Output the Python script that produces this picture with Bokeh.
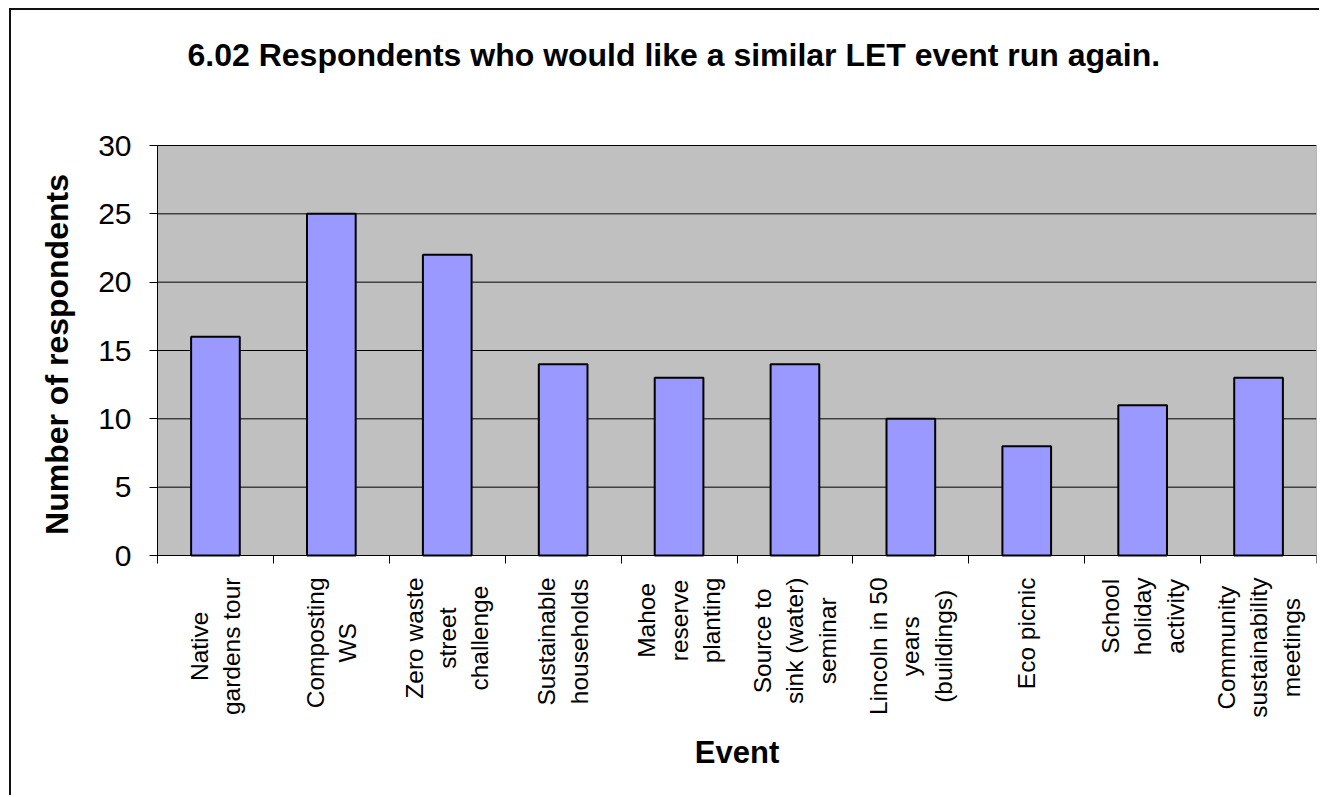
import math
from bokeh.plotting import figure
from bokeh.models import Range1d, FixedTicker, ColumnDataSource, LabelSet, Label, LinearAxis
from bokeh.core.properties import value
from bokeh.embed import file_html
from bokeh.resources import INLINE

categories = ["Native\ngardens tour", "Composting\nWS", "Zero waste\nstreet\nchallenge",
              "Sustainable\nhouseholds", "Mahoe\nreserve\nplanting", "Source to\nsink (water)\nseminar",
              "Lincoln in 50\nyears\n(buildings)", "Eco picnic", "School\nholiday\nactivity",
              "Community\nsustainability\nmeetings"]
values = [16, 25, 22, 14, 13, 14, 10, 8, 11, 13]
y_ticks = [0, 5, 10, 15, 20, 25, 30]
y_max = 30
x_title = "Event"
y_title = "Number of respondents"
title = "6.02 Respondents who would like a similar LET event run again."

n = len(categories)
centers = [i + 0.5 for i in range(n)]
bounds = list(range(n + 1))

FONT = "Liberation Sans"
CAT_FONT_PX = 24.5
LINE_GAP_PX = 32.5
LABEL_GAP_PX = 22

# layout (px)
W, H = 1310, 787
TOP_PAD = 20                      # room above the grey area for the "30" label
MB_LEFT, MB_RIGHT, MB_TOP, MB_BOTTOM = 0, 5, 135 - TOP_PAD, 2
PLOT_W, PLOT_H = 1159, 410        # size of the grey plotting area
frame_w = W - MB_LEFT - MB_RIGHT
frame_h = H - MB_TOP - MB_BOTTOM
x_min = n - frame_w * n / PLOT_W           # room on the left for the y axis texts
y_top = y_max + TOP_PAD * y_max / PLOT_H
y_min = y_top - frame_h * y_max / PLOT_H   # room below 0 for the category labels

# Arial / Liberation Sans advance widths (per 1000 em) used to centre the label blocks
ADV = {' ': 278, '(': 333, ')': 333, '0': 556, '5': 556, 'C': 722, 'E': 667, 'H': 722,
       'L': 556, 'M': 833, 'N': 722, 'S': 667, 'W': 944, 'Z': 611, 'a': 556, 'b': 556,
       'c': 500, 'd': 556, 'e': 556, 'g': 556, 'h': 556, 'i': 222, 'k': 500, 'l': 222,
       'm': 833, 'n': 556, 'o': 556, 'p': 556, 'r': 333, 's': 500, 't': 278, 'u': 556,
       'v': 500, 'w': 722, 'y': 500}


def text_px(s):
    return sum(ADV.get(ch, 556) for ch in s) * CAT_FONT_PX / 1000.0


lab_x, lab_y, lab_text, lab_dx, lab_dy = [], [], [], [], []
for c, cat in zip(centers, categories):
    lines = cat.split("\n")
    block = max(text_px(s) for s in lines)
    k = len(lines)
    for i, s in enumerate(lines):
        lab_x.append(c)
        lab_y.append(0)
        lab_text.append(s)
        lab_dx.append((i - (k - 1) / 2.0) * LINE_GAP_PX)
        lab_dy.append(-(LABEL_GAP_PX + block / 2.0))

p = figure(width=W, height=H, output_backend="svg", toolbar_location=None,
           x_range=Range1d(x_min, n), y_range=Range1d(y_min, y_top),
           x_axis_location=None, y_axis_location=None,
           min_border_left=MB_LEFT, min_border_right=MB_RIGHT,
           min_border_top=MB_TOP, min_border_bottom=MB_BOTTOM)
p.styles = {"margin-left": "9px", "margin-top": "8px",
            "border-left": "2px solid #111", "border-top": "2px solid #111"}
p.grid.visible = False

p.title.text = title + "\n "
p.title.text_font = FONT
p.title.text_font_size = "32px"
p.title.text_font_style = "bold"
p.title.text_color = "black"
p.title.text_line_height = 1.28
p.title.align = "left"
p.title.offset = 176
p.title.vertical_align = "top"
p.title.standoff = 10

p.background_fill_color = "white"
p.border_fill_color = "white"
p.outline_line_color = None

# grey plotting area
p.quad(left=0, right=n, bottom=0, top=y_max, fill_color="#C0C0C0", line_color="#808080",
       line_width=1, level="image")

# horizontal grid lines across the plotting area only
p.segment(x0=[0] * len(y_ticks), x1=[n] * len(y_ticks), y0=y_ticks, y1=y_ticks,
          line_color="black", line_width=1)

p.vbar(x=centers, top=values, width=0.42, fill_color="#9999FF", line_color="black", line_width=2)

# y axis on x = 0
yaxis = LinearAxis(fixed_location=0, ticker=FixedTicker(ticks=y_ticks), bounds=(0, y_max))
yaxis.major_label_text_font = FONT
yaxis.major_label_text_font_size = "30px"
yaxis.major_label_text_color = "black"
yaxis.major_label_standoff = 18
yaxis.major_tick_out = 8
yaxis.major_tick_in = 0
yaxis.minor_tick_line_color = None
yaxis.axis_line_color = "black"
yaxis.major_tick_line_color = "black"
p.add_layout(yaxis, "left")

# x axis on y = 0, with tick marks between categories
xaxis = LinearAxis(fixed_location=0, ticker=FixedTicker(ticks=[], minor_ticks=bounds), bounds=(0, n))
xaxis.major_label_text_font_size = "0px"
xaxis.major_tick_line_color = None
xaxis.minor_tick_line_color = "black"
xaxis.minor_tick_out = 8
xaxis.minor_tick_in = 0
xaxis.axis_line_color = "black"
p.add_layout(xaxis, "below")

src = ColumnDataSource(dict(x=lab_x, y=lab_y, text=lab_text, dx=lab_dx, dy=lab_dy))
labels = LabelSet(x="x", y="y", text="text", x_offset="dx", y_offset="dy", source=src,
                  angle=math.pi / 2, text_align="center", text_baseline="middle",
                  text_font=value(FONT), text_font_size=f"{CAT_FONT_PX}px", text_color="black")
p.add_layout(labels)

p.add_layout(Label(x=n / 2, y=0, y_offset=-197, text=x_title, text_align="center",
                   text_baseline="middle", text_font=FONT, text_font_size="31px",
                   text_font_style="bold", text_color="black"))

p.add_layout(Label(x=0, y=y_max / 2, x_offset=-101, y_offset=-4, angle=math.pi / 2,
                   text=y_title, text_align="center", text_baseline="middle",
                   text_font=FONT, text_font_size="32px", text_font_style="bold",
                   text_color="black"))

open("out.html", "w").write(file_html(p, INLINE))
